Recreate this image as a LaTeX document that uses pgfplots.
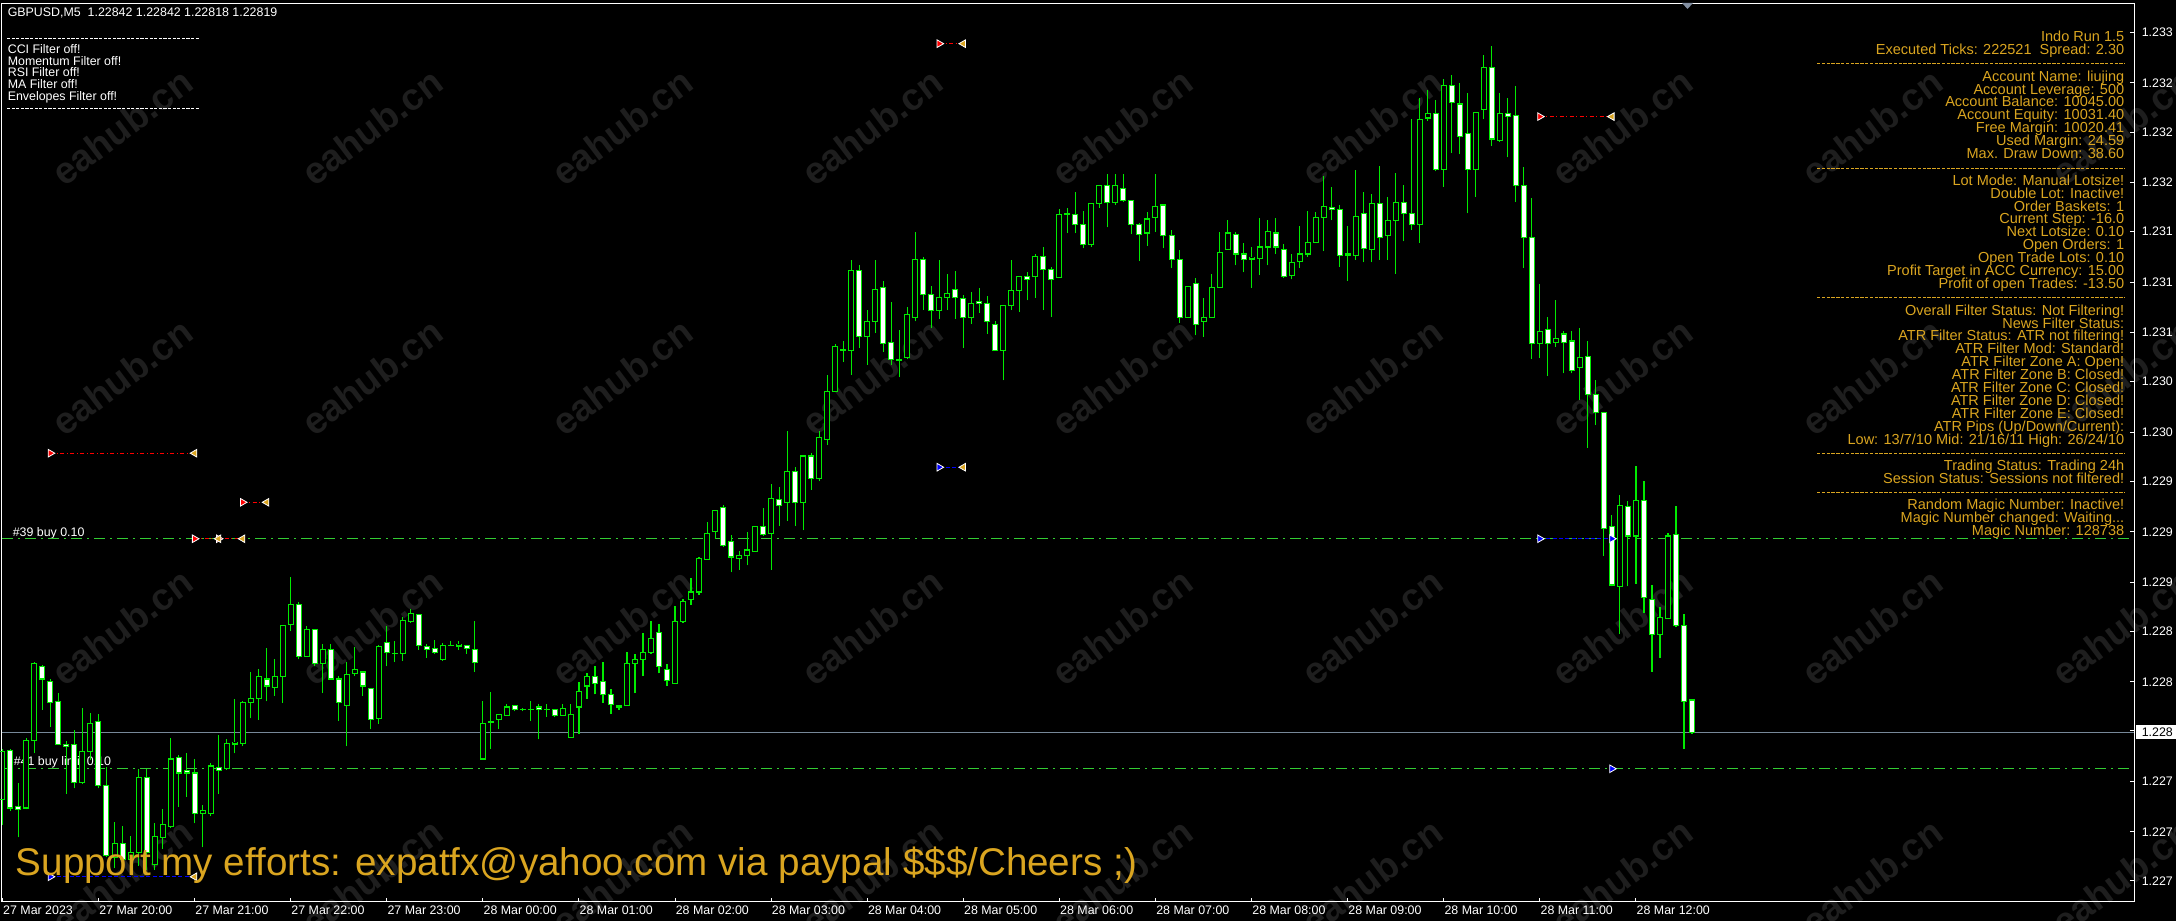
\documentclass[border=0pt]{standalone}
\usepackage{fontspec}
\setmainfont{Liberation Sans}
\usepackage{pgfplots}
\pgfplotsset{compat=1.18}
\usepackage{pgfplotstable}

\definecolor{cg}{RGB}{0,235,0}
\definecolor{ol}{RGB}{50,205,50}
\definecolor{gold}{RGB}{218,165,32}
\definecolor{pl}{RGB}{119,136,153}
\definecolor{wm}{RGB}{30,30,30}
\definecolor{shiftc}{RGB}{130,142,160}

\newcommand\sm{\fontsize{3.1pt}{3.7pt}\selectfont}
\newcommand\pf{\fontsize{3.63pt}{3.63pt}\selectfont}
\newcommand\rp[2]{\node[anchor=base east, inner sep=0pt, text=gold, font=\pf] at (2125,{921-#1}) {#2};}
\newcommand\lf[2]{\node[anchor=base west, inner sep=0pt, text=white, font=\sm] at (7,{921-#1}) {#2};}

% GBPUSD M5, bar 0 = 27 Mar 19:00
\pgfplotstableread{
i o h l c
0 1.22771 1.22807 1.22753 1.22805
1 1.22806 1.22807 1.22763 1.22765
2 1.22766 1.22783 1.22744 1.22764
3 1.22765 1.22815 1.22764 1.22813
4 1.22813 1.22869 1.22804 1.22868
5 1.22866 1.22867 1.22835 1.22857
6 1.22855 1.22857 1.22823 1.22840
7 1.22841 1.22847 1.22810 1.22810
8 1.22810 1.22813 1.22775 1.22809
9 1.22810 1.22821 1.22779 1.22783
10 1.22783 1.22836 1.22782 1.22805
11 1.22805 1.22833 1.22799 1.22825
12 1.22827 1.22832 1.22779 1.22781
13 1.22781 1.22794 1.22730 1.22731
14 1.22730 1.22755 1.22722 1.22740
15 1.22740 1.22752 1.22724 1.22728
16 1.22728 1.22745 1.22721 1.22733
17 1.22733 1.22793 1.22724 1.22787
18 1.22787 1.22793 1.22721 1.22733
19 1.22725 1.22754 1.22721 1.22745
20 1.22744 1.22764 1.22736 1.22753
21 1.22752 1.22815 1.22751 1.22800
22 1.22801 1.22803 1.22766 1.22790
23 1.22792 1.22804 1.22773 1.22790
24 1.22790 1.22800 1.22754 1.22761
25 1.22761 1.22767 1.22737 1.22763
26 1.22761 1.22797 1.22759 1.22795
27 1.22794 1.22817 1.22775 1.22792
28 1.22793 1.22814 1.22792 1.22811
29 1.22811 1.22843 1.22804 1.22810
30 1.22811 1.22841 1.22809 1.22840
31 1.22840 1.22862 1.22829 1.22843
32 1.22843 1.22864 1.22828 1.22859
33 1.22857 1.22879 1.22841 1.22852
34 1.22851 1.22871 1.22845 1.22859
35 1.22859 1.22895 1.22840 1.22895
36 1.22896 1.22930 1.22891 1.22910
37 1.22910 1.22912 1.22871 1.22873
38 1.22873 1.22895 1.22873 1.22892
39 1.22892 1.22892 1.22866 1.22868
40 1.22868 1.22882 1.22847 1.22878
41 1.22878 1.22882 1.22857 1.22857
42 1.22857 1.22859 1.22827 1.22840
43 1.22838 1.22869 1.22809 1.22860
44 1.22861 1.22880 1.22859 1.22864
45 1.22862 1.22862 1.22845 1.22852
46 1.22850 1.22850 1.22821 1.22828
47 1.22829 1.22881 1.22825 1.22880
48 1.22883 1.22895 1.22866 1.22876
49 1.22875 1.22884 1.22869 1.22875
50 1.22875 1.22901 1.22870 1.22899
51 1.22898 1.22907 1.22897 1.22904
52 1.22903 1.22903 1.22878 1.22881
53 1.22880 1.22882 1.22872 1.22878
54 1.22879 1.22885 1.22875 1.22876
55 1.22871 1.22883 1.22870 1.22881
56 1.22881 1.22884 1.22881 1.22881
57 1.22881 1.22884 1.22878 1.22880
58 1.22881 1.22881 1.22875 1.22879
59 1.22878 1.22898 1.22862 1.22869
60 1.22800 1.22841 1.22800 1.22825
61 1.22826 1.22848 1.22807 1.22827
62 1.22828 1.22832 1.22821 1.22832
63 1.22831 1.22839 1.22831 1.22837
64 1.22838 1.22838 1.22834 1.22835
65 1.22835 1.22836 1.22834 1.22835
66 1.22835 1.22841 1.22827 1.22835
67 1.22837 1.22839 1.22814 1.22835
68 1.22835 1.22839 1.22830 1.22835
69 1.22835 1.22835 1.22830 1.22831
70 1.22831 1.22839 1.22831 1.22836
71 1.22815 1.22839 1.22815 1.22832
72 1.22837 1.22855 1.22818 1.22848
73 1.22852 1.22861 1.22843 1.22859
74 1.22859 1.22866 1.22846 1.22854
75 1.22855 1.22869 1.22840 1.22846
76 1.22846 1.22850 1.22832 1.22839
77 1.22838 1.22838 1.22835 1.22837
78 1.22838 1.22876 1.22838 1.22868
79 1.22868 1.22875 1.22847 1.22871
80 1.22871 1.22890 1.22859 1.22876
81 1.22876 1.22898 1.22875 1.22886
82 1.22890 1.22896 1.22861 1.22866
83 1.22864 1.22868 1.22852 1.22856
84 1.22854 1.22909 1.22854 1.22898
85 1.22898 1.22914 1.22897 1.22912
86 1.22914 1.22929 1.22910 1.22919
87 1.22919 1.22944 1.22917 1.22943
88 1.22942 1.22969 1.22942 1.22961
89 1.22962 1.22977 1.22957 1.22977
90 1.22979 1.22981 1.22951 1.22952
91 1.22955 1.22960 1.22933 1.22944
92 1.22943 1.22948 1.22935 1.22945
93 1.22945 1.22962 1.22938 1.22949
94 1.22948 1.22966 1.22948 1.22966
95 1.22966 1.22979 1.22959 1.22960
96 1.22961 1.22996 1.22935 1.22986
97 1.22985 1.22994 1.22966 1.22981
98 1.22983 1.23034 1.22970 1.23005
99 1.23005 1.23008 1.22966 1.22983
100 1.22983 1.23017 1.22963 1.23016
101 1.23016 1.23018 1.22992 1.23000
102 1.23000 1.23034 1.22998 1.23029
103 1.23028 1.23074 1.23024 1.23062
104 1.23062 1.23096 1.23062 1.23094
105 1.23092 1.23098 1.23083 1.23091
106 1.23091 1.23156 1.23074 1.23148
107 1.23148 1.23152 1.23093 1.23101
108 1.23101 1.23120 1.23081 1.23112
109 1.23112 1.23156 1.23104 1.23135
110 1.23136 1.23141 1.23090 1.23096
111 1.23097 1.23126 1.23081 1.23085
112 1.23084 1.23106 1.23072 1.23085
113 1.23086 1.23122 1.23085 1.23117
114 1.23115 1.23176 1.23112 1.23156
115 1.23156 1.23158 1.23120 1.23131
116 1.23131 1.23137 1.23107 1.23120
117 1.23120 1.23156 1.23114 1.23129
118 1.23129 1.23146 1.23120 1.23132
119 1.23135 1.23148 1.23114 1.23129
120 1.23128 1.23131 1.23093 1.23115
121 1.23115 1.23133 1.23110 1.23125
122 1.23126 1.23136 1.23118 1.23125
123 1.23125 1.23130 1.23103 1.23112
124 1.23110 1.23112 1.23091 1.23091
125 1.23091 1.23123 1.23070 1.23123
126 1.23123 1.23156 1.23120 1.23134
127 1.23134 1.23144 1.23119 1.23144
128 1.23144 1.23147 1.23127 1.23142
129 1.23144 1.23160 1.23129 1.23158
130 1.23158 1.23165 1.23120 1.23149
131 1.23149 1.23151 1.23115 1.23142
132 1.23143 1.23192 1.23143 1.23188
133 1.23188 1.23193 1.23175 1.23189
134 1.23188 1.23204 1.23175 1.23181
135 1.23181 1.23191 1.23164 1.23167
136 1.23167 1.23196 1.23165 1.23196
137 1.23196 1.23209 1.23193 1.23209
138 1.23209 1.23217 1.23179 1.23197
139 1.23197 1.23217 1.23195 1.23209
140 1.23207 1.23217 1.23197 1.23198
141 1.23198 1.23198 1.23174 1.23181
142 1.23181 1.23182 1.23155 1.23174
143 1.23175 1.23190 1.23166 1.23185
144 1.23186 1.23217 1.23176 1.23194
145 1.23195 1.23195 1.23164 1.23173
146 1.23173 1.23177 1.23150 1.23156
147 1.23156 1.23163 1.23111 1.23115
148 1.23115 1.23137 1.23115 1.23137
149 1.23139 1.23143 1.23102 1.23110
150 1.23112 1.23129 1.23101 1.23115
151 1.23115 1.23146 1.23115 1.23136
152 1.23136 1.23176 1.23136 1.23161
153 1.23163 1.23184 1.23163 1.23175
154 1.23174 1.23176 1.23152 1.23160
155 1.23160 1.23168 1.23147 1.23156
156 1.23157 1.23165 1.23136 1.23156
157 1.23157 1.23186 1.23145 1.23165
158 1.23165 1.23184 1.23152 1.23176
159 1.23175 1.23186 1.23160 1.23165
160 1.23163 1.23167 1.23143 1.23144
161 1.23145 1.23160 1.23142 1.23154
162 1.23155 1.23180 1.23150 1.23160
163 1.23160 1.23191 1.23158 1.23168
164 1.23168 1.23190 1.23168 1.23186
165 1.23186 1.23216 1.23162 1.23194
166 1.23193 1.23208 1.23184 1.23192
167 1.23192 1.23195 1.23151 1.23159
168 1.23159 1.23180 1.23141 1.23160
169 1.23159 1.23220 1.23156 1.23187
170 1.23189 1.23204 1.23154 1.23164
171 1.23163 1.23203 1.23154 1.23196
172 1.23196 1.23223 1.23156 1.23172
173 1.23173 1.23201 1.23156 1.23184
174 1.23184 1.23218 1.23146 1.23197
175 1.23197 1.23209 1.23169 1.23189
176 1.23189 1.23256 1.23177 1.23181
177 1.23181 1.23271 1.23168 1.23256
178 1.23257 1.23277 1.23255 1.23260
179 1.23260 1.23270 1.23219 1.23220
180 1.23220 1.23285 1.23208 1.23280
181 1.23280 1.23288 1.23232 1.23268
182 1.23267 1.23282 1.23231 1.23244
183 1.23246 1.23275 1.23189 1.23220
184 1.23220 1.23261 1.23201 1.23261
185 1.23263 1.23302 1.23256 1.23293
186 1.23293 1.23308 1.23237 1.23242
187 1.23241 1.23275 1.23240 1.23260
188 1.23260 1.23271 1.23229 1.23258
189 1.23259 1.23280 1.23197 1.23209
190 1.23209 1.23222 1.23150 1.23172
191 1.23172 1.23200 1.23085 1.23096
192 1.23096 1.23139 1.23086 1.23105
193 1.23106 1.23115 1.23073 1.23096
194 1.23097 1.23127 1.23094 1.23100
195 1.23103 1.23105 1.23075 1.23097
196 1.23098 1.23105 1.23075 1.23077
197 1.23079 1.23107 1.23056 1.23086
198 1.23087 1.23098 1.23022 1.23060
199 1.23060 1.23070 1.23038 1.23047
200 1.23047 1.23047 1.22945 1.22964
201 1.22966 1.22974 1.22923 1.22924
202 1.22923 1.22988 1.22889 1.22981
203 1.22980 1.22984 1.22923 1.22959
204 1.22959 1.23009 1.22925 1.22984
205 1.22984 1.22998 1.22904 1.22915
206 1.22914 1.22924 1.22862 1.22889
207 1.22889 1.22908 1.22872 1.22901
208 1.22900 1.22961 1.22900 1.22959
209 1.22960 1.22980 1.22894 1.22895
210 1.22895 1.22903 1.22807 1.22841
211 1.22842 1.22842 1.22818 1.22819
}\candles

\begin{document}
\begin{tikzpicture}
\useasboundingbox (0,0) rectangle (544pt,230.25pt);
\fill[black] (0,0) rectangle (544pt,230.25pt);
\begin{scope}
\clip (0,0) rectangle (544pt,230.25pt);

\begin{scope}[x=0.25pt,y=0.25pt]
% watermark
\foreach \X in {122,372,...,2122}{
  \foreach \Y in {127,377,627,877}{
    \node[rotate=37, text=wm, font=\fontsize{9.4pt}{9.4pt}\selectfont\bfseries] at (\X,{921-\Y}) {eahub.cn};
  }
}
% order labels (under the candles)
\node[anchor=base west, inner sep=0pt, text=white, font=\sm] at (12,{921-536.7}) {\#39 buy 0.10};
\node[anchor=base west, inner sep=0pt, text=white, font=\sm] at (13,{921-766}) {\#41 buy limit 0.10};
\end{scope}

\begin{axis}[
  at={(0.5pt,4.75pt)}, anchor=south west,
  scale only axis, width=533pt, height=224.75pt,
  xmin=-0.05, xmax=266.2, ymin=1.22698, ymax=1.23339,
  axis line style={white, line width=0.25pt},
  xtick={0,12,...,204},
  xticklabels={27 Mar 2023,27 Mar 20:00,27 Mar 21:00,27 Mar 22:00,27 Mar 23:00,28 Mar 00:00,28 Mar 01:00,28 Mar 02:00,28 Mar 03:00,28 Mar 04:00,28 Mar 05:00,28 Mar 06:00,28 Mar 07:00,28 Mar 08:00,28 Mar 09:00,28 Mar 10:00,28 Mar 11:00,28 Mar 12:00},
  % price scale, cut off by the window edge after the third decimal
  ytick={1.23318,1.23282,1.23247,1.23211,1.23176,1.23140,1.23104,1.23069,1.23033,1.22998,1.22962,1.22926,1.22891,1.22855,1.22820,1.22784,1.22748,1.22713},
  yticklabels={1.233,1.232,1.232,1.232,1.231,1.231,1.231,1.230,1.230,1.229,1.229,1.229,1.228,1.228,1.228,1.227,1.227,1.227},
  scaled ticks=false,
  xtick pos=bottom, ytick pos=right, yticklabel pos=right,
  tick align=inside, major tick length=1pt,
  tick style={white, line width=0.25pt},
  ticklabel style={text=white, font=\sm, inner sep=0pt},
  xticklabel style={anchor=north west, yshift=-0.75pt},
  yticklabel style={anchor=west, xshift=1.75pt},
  /pgf/number format/assume math mode=true,
]
% order lines and bid line
\addplot[ol, line width=0.25pt, dash pattern=on 2.75pt off 1.25pt on 0.5pt off 1.25pt] coordinates {(-0.05,1.22957) (266.2,1.22957)};
\addplot[ol, line width=0.25pt, dash pattern=on 2.75pt off 1.25pt on 0.5pt off 1.25pt] coordinates {(-0.05,1.22793) (266.2,1.22793)};
\addplot[pl, line width=0.3pt] coordinates {(-0.05,1.22819) (266.2,1.22819)};

% wicks
\addplot[draw=none, mark=none, error bars/.cd, y dir=plus, y explicit, error mark=none,
  error bar style={draw=cg, line width=0.28pt}]
  table[x=i, y=l, y error expr={\thisrow{h}-\thisrow{l}}] {\candles};
% body frame
\addplot[draw=none, mark=none, error bars/.cd, y dir=plus, y explicit, error mark=none,
  error bar style={draw=cg, line width=1.5pt}]
  table[x=i, y expr={min(\thisrow{o},\thisrow{c})}, y error expr={abs(\thisrow{c}-\thisrow{o})}] {\candles};
% body fill: black for every bar, white for the falling ones
\addplot[draw=none, mark=none, error bars/.cd, y dir=plus, y explicit, error mark=none,
  error bar style={draw=black, line width=1pt}]
  table[x=i, y expr={min(\thisrow{o},\thisrow{c})}, y error expr={abs(\thisrow{c}-\thisrow{o})}] {\candles};
\addplot[draw=none, mark=none, error bars/.cd, y dir=plus, y explicit, error mark=none,
  error bar style={draw=white, line width=1pt}]
  table[x=i, y=c, y error expr={max(\thisrow{o}-\thisrow{c},0)}] {\candles};
% open and close edges
\addplot[only marks, mark=-, mark size=0.75pt, cg, line width=0.28pt] table[x=i, y=o] {\candles};
\addplot[only marks, mark=-, mark size=0.75pt, cg, line width=0.28pt] table[x=i, y=c] {\candles};

% trade history lines
\addplot[red, line width=0.25pt, dash pattern=on 1pt off 0.6pt on 0.3pt off 0.6pt] coordinates {(6,1.23018) (24,1.23018)};
\addplot[red, line width=0.25pt, dash pattern=on 1pt off 0.6pt on 0.3pt off 0.6pt] coordinates {(30,1.22983) (33,1.22983)};
\addplot[red, line width=0.25pt, dash pattern=on 1pt off 0.6pt on 0.3pt off 0.6pt] coordinates {(24,1.22957) (30,1.22957)};
\addplot[red, line width=0.25pt, dash pattern=on 1pt off 0.6pt on 0.3pt off 0.6pt] coordinates {(117,1.23310) (120,1.23310)};
\addplot[red, line width=0.25pt, dash pattern=on 1pt off 0.6pt on 0.3pt off 0.6pt] coordinates {(192,1.23258) (201,1.23258)};
\addplot[blue, line width=0.25pt, dash pattern=on 1pt off 0.6pt] coordinates {(117,1.23008) (120,1.23008)};
\addplot[blue, line width=0.25pt, dash pattern=on 1pt off 0.6pt] coordinates {(192,1.22957) (201,1.22957)};
\addplot[blue, line width=0.25pt, dash pattern=on 1pt off 0.6pt] coordinates {(6,1.22716) (24,1.22716)};

% trade arrows
\addplot[only marks, mark=triangle*, mark size=1.1pt, mark options={rotate=-90, fill=red, draw=white, line width=0.2pt}]
  coordinates {(6,1.23018) (30,1.22983) (24,1.22957) (27,1.22957) (117,1.23310) (192,1.23258)};
\addplot[only marks, mark=triangle*, mark size=1.1pt, mark options={rotate=-90, fill=blue, draw=white, line width=0.2pt}]
  coordinates {(117,1.23008) (192,1.22957) (201,1.22957) (201,1.22793) (6,1.22716)};
\addplot[only marks, mark=triangle*, mark size=1.1pt, mark options={rotate=90, fill=gold, draw=white, line width=0.2pt}]
  coordinates {(24,1.23018) (33,1.22983) (27,1.22957) (30,1.22957) (120,1.23310) (201,1.23258) (120,1.23008) (24,1.22716)};
\end{axis}

\begin{scope}[x=0.25pt,y=0.25pt]
% bid price box
\fill[white] (2136,{921-739.5}) rectangle (2176,{921-725.5});
\node[text=black, anchor=west, inner sep=0pt, font=\sm] at (2141,{921-732.5}) {1.228};
% chart shift marker
\fill[shiftc] (1682,918) -- (1693,918) -- (1687.5,912) -- cycle;

% top left comment
\lf{16.7}{GBPUSD,M5\ \ 1.22842 1.22842 1.22818 1.22819}
\draw[white, line width=0.25pt, dash pattern=on 0.8pt off 0.35pt] (7,{921-38.3}) -- (199,{921-38.3});
\lf{53.3}{CCI Filter off!}
\lf{65.3}{Momentum Filter off!}
\lf{76.7}{RSI Filter off!}
\lf{88.7}{MA Filter off!}
\lf{100.7}{Envelopes Filter off!}
\draw[white, line width=0.25pt, dash pattern=on 0.8pt off 0.35pt] (7,{921-109}) -- (199,{921-109});

% right panel
\rp{41.7}{Indo Run 1.5}
\rp{55}{Executed Ticks: 222521\ \ Spread: 2.30}
\rp{81.7}{Account Name: liujing}
\rp{94.3}{Account Leverage: 500}
\rp{106.7}{Account Balance: 10045.00}
\rp{120}{Account Equity: 10031.40}
\rp{132.7}{Free Margin: 10020.41}
\rp{145.7}{Used Margin: 24.59}
\rp{158.7}{Max. Draw Down: 38.60}
\rp{185.3}{Lot Mode: Manual Lotsize!}
\rp{198.3}{Double Lot: Inactive!}
\rp{211.3}{Order Baskets: 1}
\rp{224}{Current Step: -16.0}
\rp{237}{Next Lotsize: 0.10}
\rp{250}{Open Orders: 1}
\rp{263}{Open Trade Lots: 0.10}
\rp{276}{Profit Target in ACC Currency: 15.00}
\rp{288.7}{Profit of open Trades: -13.50}
\rp{315.3}{Overall Filter Status: Not Filtering!}
\rp{328.3}{News Filter Status:\ }
\rp{341}{ATR Filter Status: ATR not filtering!}
\rp{354}{ATR Filter Mod: Standard!}
\rp{366.7}{ATR Filter Zone A: Open!}
\rp{379.7}{ATR Filter Zone B: Closed!}
\rp{392.7}{ATR Filter Zone C: Closed!}
\rp{405.7}{ATR Filter Zone D: Closed!}
\rp{418.7}{ATR Filter Zone E: Closed!}
\rp{431.7}{ATR Pips (Up/Down/Current):}
\rp{444.3}{Low: 13/7/10 Mid: 21/16/11 High: 26/24/10}
\rp{471}{Trading Status: Trading 24h}
\rp{483.7}{Session Status: Sessions not filtered!}
\rp{509.3}{Random Magic Number: Inactive!}
\rp{522.3}{Magic Number changed: Waiting...}
\rp{535.3}{Magic Number: 128738}
\foreach \Y in {64,168.3,297.7,454,492.7}{
  \draw[gold, line width=0.25pt, dash pattern=on 0.85pt off 0.35pt] (1817,{921-\Y}) -- (2125,{921-\Y});
}

% banner
\node[anchor=base west, inner sep=0pt, text=gold, font=\fontsize{9.65pt}{10pt}\selectfont] at (15,45) {Support my efforts: expatfx@yahoo.com via paypal \$\$\$/Cheers ;)};
\end{scope}
\end{scope}
\end{tikzpicture}
\end{document}
